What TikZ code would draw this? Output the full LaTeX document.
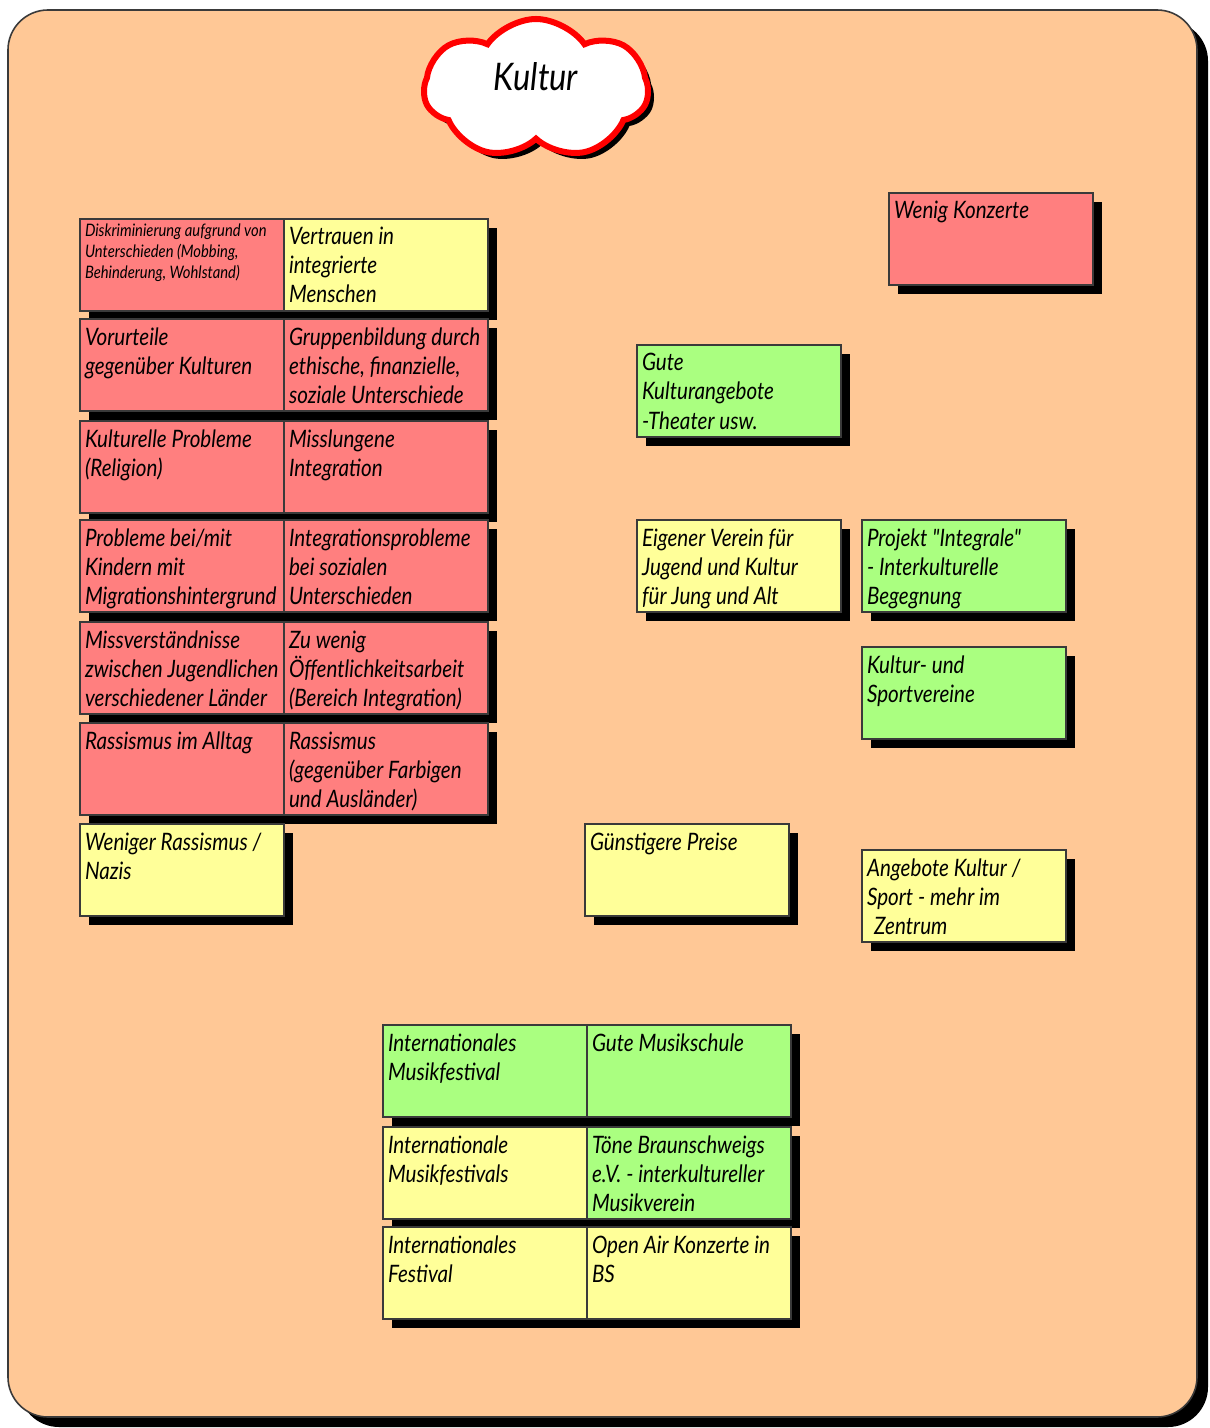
\documentclass[tikz,border=0pt]{standalone}
\usepackage{fontspec}
\newfontfamily\notefont[FakeStretch=0.86]{Lato}
\usetikzlibrary{shapes.symbols,shadows,positioning}
\definecolor{bgpeach}{HTML}{FFC896}
\definecolor{notered}{HTML}{FF7F7F}
\definecolor{noteyel}{HTML}{FFFF99}
\definecolor{notegrn}{HTML}{AAFF80}
\definecolor{noteline}{HTML}{3A3A3A}
\tikzset{
  blackshadow/.style={drop shadow={shadow xshift=#1,shadow yshift=-#1,fill=black,opacity=1}},
  note/.style={draw=noteline,line width=0.6pt,anchor=north west,inner sep=2.5pt,outer sep=0pt,
    font=\notefont\itshape\fontsize{12}{14.5}\selectfont,blackshadow=4.5pt},
  rednote/.style={note,fill=notered},
  yelnote/.style={note,fill=noteyel},
  grnnote/.style={note,fill=notegrn}}
\newcommand{\notebox}[1]{\parbox[t][41pt][t]{97pt}{\raggedright\rule{0pt}{10.5pt}#1}}
\newcommand{\notesmall}[1]{\parbox[t][41pt][t]{97pt}{\fontsize{8.6}{10.5}\selectfont\raggedright\rule{0pt}{6.5pt}#1}}

\begin{document}
\begin{tikzpicture}[x=0.5pt,y=-0.5pt]
  \useasboundingbox (0,0) rectangle (1209,1428);
  % board
  \fill[black,rounded corners=20pt] (19,21) rectangle (1208,1427);
  \draw[noteline,line width=0.8pt,fill=bgpeach,rounded corners=20pt] (8,10) rectangle (1197,1417);
  % title cloud
  \node[cloud,cloud puffs=7,cloud puff arc=110,aspect=1.5,draw=red,line width=3pt,fill=white,
    minimum width=112pt,minimum height=70pt,blackshadow=3pt] (cloud) at (536,89) {};
  \node[font=\notefont\itshape\fontsize{19}{22}\selectfont] (kultur) at (536,77) {Kultur};

  % left table
  \node[rednote] (diskr) at (80,219) {\notesmall{Diskriminierung aufgrund von\\Unterschieden (Mobbing,\\Behinderung, Wohlstand)}};
  \node[yelnote,right=0pt of diskr] (vertrauen) {\notebox{Vertrauen in\\integrierte\\Menschen}};
  \node[rednote] (vorurteile) at (80,319) {\notebox{Vorurteile\\gegenüber Kulturen}};
  \node[rednote,right=0pt of vorurteile] (gruppen) {\notebox{Gruppenbildung durch\\ethische, finanzielle,\\soziale Unterschiede}};
  \node[rednote] (religion) at (80,421) {\notebox{Kulturelle Probleme\\(Religion)}};
  \node[rednote,right=0pt of religion] (misslungen) {\notebox{Misslungene\\Integration}};
  \node[rednote] (kinder) at (80,520) {\notebox{Probleme bei/mit\\Kindern mit\\Migrationshintergrund}};
  \node[rednote,right=0pt of kinder] (sozial) {\notebox{Integrationsprobleme\\bei sozialen\\Unterschieden}};
  \node[rednote] (missverst) at (80,622) {\notebox{Missverständnisse\\zwischen Jugendlichen\\verschiedener Länder}};
  \node[rednote,right=0pt of missverst] (oeffentl) {\notebox{Zu wenig\\Öffentlichkeitsarbeit\\(Bereich Integration)}};
  \node[rednote] (alltag) at (80,723) {\notebox{Rassismus im Alltag}};
  \node[rednote,right=0pt of alltag] (farbige) {\notebox{Rassismus\\(gegenüber Farbigen\\und Ausländer)}};
  \node[yelnote] (nazis) at (80,824) {\notebox{Weniger Rassismus /\\Nazis}};

  % single notes
  \node[rednote] (konzerte) at (889,193) {\notebox{Wenig Konzerte}};
  \node[grnnote] (theater) at (637,345) {\notebox{Gute\\Kulturangebote\\-Theater usw.}};
  \node[yelnote] (verein) at (637,520) {\notebox{Eigener Verein für\\Jugend und Kultur\\für Jung und Alt}};
  \node[grnnote] (integrale) at (862,520) {\notebox{Projekt "Integrale"\\- Interkulturelle\\Begegnung}};
  \node[grnnote] (sport) at (862,647) {\notebox{Kultur- und\\Sportvereine}};
  \node[yelnote] (preise) at (585,824) {\notebox{Günstigere Preise}};
  \node[yelnote] (zentrum) at (862,850) {\notebox{Angebote Kultur /\\Sport - mehr im\\\hspace*{0.3em}Zentrum}};

  % bottom table
  \node[grnnote] (festival) at (383,1025) {\notebox{Internationales\\Musikfestival}};
  \node[grnnote,right=0pt of festival] (musikschule) {\notebox{Gute Musikschule}};
  \node[yelnote] (festivals) at (383,1127) {\notebox{Internationale\\Musikfestivals}};
  \node[grnnote,right=0pt of festivals] (toene) {\notebox{Töne Braunschweigs\\e.V. - interkultureller\\Musikverein}};
  \node[yelnote] (intfest) at (383,1227) {\notebox{Internationales\\Festival}};
  \node[yelnote,right=0pt of intfest] (openair) {\notebox{Open Air Konzerte in\\BS}};
\end{tikzpicture}
\end{document}
